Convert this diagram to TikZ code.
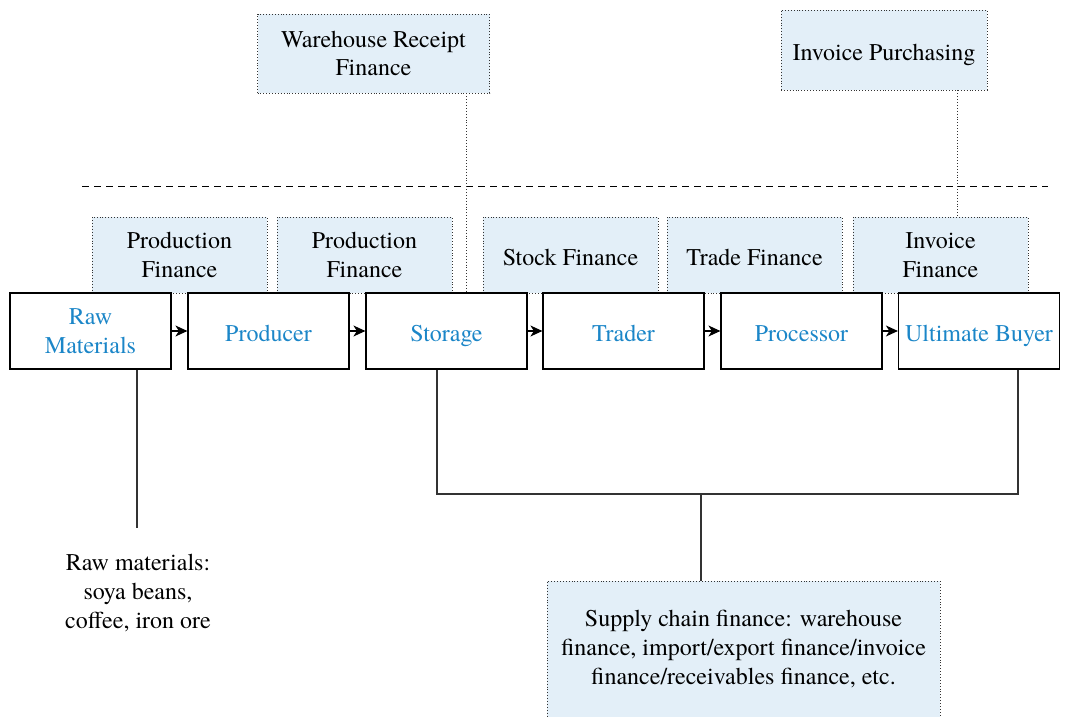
\documentclass[tikz,border=0pt]{standalone}
\usepackage{fontspec}
\setmainfont{texgyretermes}[Extension=.otf, UprightFont=*-regular, BoldFont=*-bold, ItalicFont=*-italic, BoldItalicFont=*-bolditalic]
\usetikzlibrary{arrows.meta}
\definecolor{stagetext}{HTML}{1B86C8}
\definecolor{finfill}{HTML}{E3EFF8}
\definecolor{linkgray}{HTML}{333333}
\begin{document}
\begin{tikzpicture}[x=1pt,y=-1pt,
  every node/.style={font=\fontsize{24}{28.8}\selectfont, align=center, inner sep=0pt},
  stage/.style={draw=black, line width=1.2pt, fill=white, minimum width=161pt, minimum height=76pt, text=stagetext},
  finbox/.style={draw=black!80, dotted, line width=0.9pt, fill=finfill, minimum width=175pt, minimum height=76pt},
  oneline/.style={text height=20pt, text depth=0pt},
  flow/.style={line width=1.2pt, -{Stealth[length=12pt,width=11pt,inset=3.5pt]}},
  link/.style={draw=linkgray, line width=1.4pt},
  hook/.style={draw=black!80, dotted, line width=0.9pt}]
\useasboundingbox (0,0) rectangle (1068,717);

% finance boxes above the chain
\node[finbox] (pf1) at (179.5,255) {Production\\Finance};
\node[finbox] (pf2) at (364.5,255) {Production\\Finance};
\node[finbox, oneline] (sf)  at (570.5,255) {Stock Finance};
\node[finbox, oneline] (tf)  at (754.5,255) {Trade Finance};
\node[finbox] (if)  at (940.5,255) {Invoice\\Finance};

% top-level products
\node[finbox, minimum width=232pt, minimum height=79pt] (wrf) at (373.5,53.5) {Warehouse Receipt\\Finance};
\node[finbox, oneline, minimum width=206pt, minimum height=80pt] (ip) at (884,50) {Invoice Purchasing};

% divider
\draw[dashed, line width=1pt, dash pattern=on 7pt off 5pt] (82,186) -- (1048,186);

% chain stages
\node[stage] (raw)   at (90.5,331)   {Raw\\Materials};
\node[stage, oneline] (prod)  at (268.5,331)  {Producer};
\node[stage, oneline] (stor)  at (446.5,331)  {Storage};
\node[stage, oneline] (trad)  at (623.5,331)  {Trader};
\node[stage, oneline] (proc)  at (801.5,331)  {Processor};
\node[stage, oneline] (buyer) at (979,331)    {Ultimate Buyer};

% flow between stages
\draw[flow] (raw.east)  -- (prod.west);
\draw[flow] (prod.east) -- (stor.west);
\draw[flow] (stor.east) -- (trad.west);
\draw[flow] (trad.east) -- (proc.west);
\draw[flow] (proc.east) -- (buyer.west);

% dotted hooks from top products
\draw[hook] (wrf.south -| 466,0) -- (stor.north -| 466,0);
\draw[hook] (ip.south -| 957,0) -- (if.north -| 957,0);

% raw materials note
\coordinate (rawend) at (137,528);
\draw[link] (raw.south -| rawend) -- (rawend);
\node (rawnote) at (138,593) {Raw materials:\\soya beans,\\coffee, iron ore};

% supply chain finance bracket
\node[finbox, minimum width=393pt, minimum height=150pt, anchor=north] (scf) at (743.5,581) {};
\node at (743.5,649) {Supply chain finance: warehouse\\finance, import/export finance/invoice\\finance/receivables finance, etc.};
\coordinate (jl) at (437,494);
\coordinate (jr) at (1018,494);
\coordinate (jm) at (701,494);
\draw[link] (stor.south -| jl) -- (jl) -- (jr) -- (buyer.south -| jr);
\draw[link] (jm) -- (scf.north -| jm);
\end{tikzpicture}
\end{document}
